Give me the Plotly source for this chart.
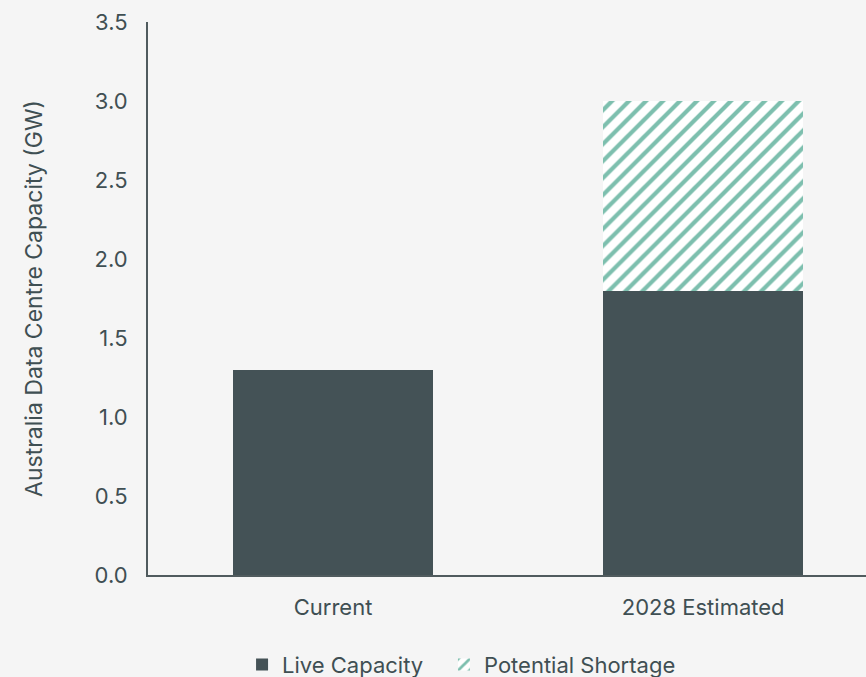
import plotly.graph_objects as go

categories = ["Current", "2028 Estimated"]
live_capacity = [1.3, 1.8]
potential_shortage = [0, 1.2]
y_ticks = [0.0, 0.5, 1.0, 1.5, 2.0, 2.5, 3.0, 3.5]

text_col = "#3f4f53"
bar_col = "#445256"
stripe_col = "#7dbfae"
bg = "#f5f5f5"

fig = go.Figure()

fig.add_trace(go.Bar(
    x=categories, y=live_capacity, name="Live Capacity",
    marker=dict(color=bar_col, line=dict(width=0)),
    width=0.54, legend="legend",
))

fig.add_trace(go.Bar(
    x=categories, y=potential_shortage, name="Potential Shortage",
    marker=dict(
        color="white", line=dict(width=0),
        pattern=dict(shape="/", fgcolor=stripe_col, bgcolor="white",
                     size=12, solidity=0.35, fillmode="replace"),
    ),
    width=0.54, legend="legend2",
))

leg = dict(orientation="h", xanchor="left", yref="container", y=0.018, yanchor="middle",
           bgcolor="rgba(0,0,0,0)", font=dict(size=22, color=text_col), itemwidth=30)

fig.update_layout(
    barmode="stack",
    width=866, height=677,
    paper_bgcolor=bg, plot_bgcolor=bg,
    margin=dict(l=148, r=0, t=22, b=102, autoexpand=False),
    font=dict(family="Inter, Roboto, sans-serif", size=22, color=text_col),
    showlegend=True,
    legend=dict(leg, x=0.131),
    legend2=dict(leg, x=0.4122),
    bargap=0,
)

fig.update_xaxes(
    range=[-0.5, 1.44], automargin=False,
    showgrid=False, showline=True, linecolor="#505b5e", linewidth=2,
    ticks="", ticklabelstandoff=12,
)
fig.update_yaxes(
    range=[0, 3.5], tickvals=y_ticks, tickformat=".1f", automargin=False,
    showgrid=False, zeroline=False, showline=True, linecolor="#505b5e", linewidth=2,
    ticks="", ticklabelstandoff=14,
    title=dict(text="Australia Data Centre Capacity (GW)", standoff=45,
               font=dict(size=23, color=text_col)),
)

# drop the default page margin so the figure sits at the window's corner
fig.write_html("out.html", config={"displayModeBar": False},
               post_script="document.body.style.margin='0';")
